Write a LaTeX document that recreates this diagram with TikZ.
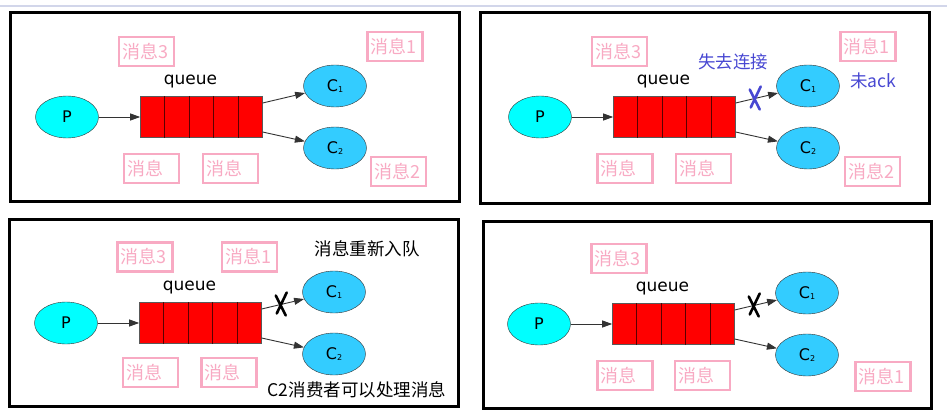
\documentclass[tikz,border=0pt]{standalone}
\usepackage{fontspec}
\setmainfont{DejaVu Sans}
\newfontfamily\cjk{Noto Sans CJK SC}
\usetikzlibrary{positioning, shapes.geometric, arrows.meta, calc}

\definecolor{msgpink}{RGB}{248,170,195}
\definecolor{cutblue}{RGB}{72,72,210}
\definecolor{prodcyan}{RGB}{0,255,255}
\definecolor{conscyan}{RGB}{51,204,255}
\definecolor{rulegray}{RGB}{210,214,234}

\newcommand{\csub}[1]{C\raisebox{-1.5pt}{\fontsize{8}{8}\selectfont #1}}

\begin{document}
\begin{tikzpicture}[
  x=1pt, y=-1pt,
  panel/.style={draw, line width=3pt},
  prod/.style={draw=black!80, ellipse, fill=prodcyan, minimum width=63pt,
               minimum height=42pt, inner sep=0pt, font=\fontsize{16}{16}\selectfont},
  cons/.style={prod, fill=conscyan, font=\fontsize{16}{16}\selectfont},
  qbox/.style={draw=black!65, fill=red, minimum width=122pt, minimum height=41pt,
               inner sep=0pt},
  cell/.style={draw=red!35!black, line width=1.2pt},
  qlabel/.style={inner sep=0pt, font=\fontsize{17}{17}\selectfont},
  msg/.style={draw=msgpink, line width=2.2pt, text=msgpink, text width=49pt,
              inner xsep=3pt, inner ysep=0pt, minimum height=29pt, align=left,
              font=\cjk\fontsize{18}{18}\selectfont},
  note/.style={inner sep=0pt, font=\cjk\fontsize{17.5}{17.5}\selectfont},
  link/.style={-{Triangle[length=10pt, width=7pt]}, draw=black!80, line width=0.9pt},
  xmark/.style={line width=2.6pt, line cap=round},
]
\useasboundingbox (0,0) rectangle (947,417);
\draw[rulegray, line width=1.5pt] (0,6) -- (947,6);

% four frames
\draw[panel] (10,13) rectangle (459,201);
\draw[panel] (480,13) rectangle (929,203);
\draw[panel] (9,219) rectangle (458,406);
\draw[panel] (483,221) rectangle (931,408);

% same queue diagram in each frame
\foreach \k/\dx/\dy in {a/0/0, b/473/0, c/-1/206, d/472/207} {
  \begin{scope}[shift={(\dx,\dy)}]
    \node[prod] (p\k) at (67,117) {P};
    \node[qbox, right=41.5pt of p\k] (q\k) {};
    \foreach \c in {1,...,4}
      \draw[cell] ($(q\k.north west)!\c/5!(q\k.north east)$)
               -- ($(q\k.south west)!\c/5!(q\k.south east)$);
    \node[qlabel, above=8pt of q\k, xshift=-11pt] (ql\k) {queue};
    \node[cons] (ca\k) at (335,86) {\csub{1}};
    \node[cons] (cb\k) at (335,148) {\csub{2}};
    \draw[link] (p\k) -- (q\k);
    \draw[link] ([yshift=14pt]q\k.east) -- coordinate[pos=0.45] (x\k) (ca\k);
    \draw[link] ([yshift=-15pt]q\k.east) -- (cb\k);
  \end{scope}
}

% messages
\node[msg] (m3a) at (146.5,51.5) {消息3};
\node[msg] (m1a) at (395,46.5) {消息1};
\node[msg] (mla) at (151.5,168.5) {消息};
\node[msg] (mra) at (230.5,168.5) {消息};
\node[msg] (m2a) at (398.5,171.5) {消息2};

\node[msg] (m3b) at (619.5,51.5) {消息3};
\node[msg] (m1b) at (868,46.5) {消息1};
\node[msg] (mlb) at (625,168.5) {消息};
\node[msg] (mrb) at (703.5,168.5) {消息};
\node[msg] (m2b) at (872.5,171.5) {消息2};

\node[msg] (m3c) at (145,257) {消息3};
\node[msg] (m1c) at (249.5,257) {消息1};
\node[msg] (mlc) at (150.5,372.5) {消息};
\node[msg] (mrc) at (229,372.5) {消息};

\node[msg] (m3d) at (619,258.5) {消息3};
\node[msg] (mld) at (625,375.5) {消息};
\node[msg] (mrd) at (702.5,375.5) {消息};
\node[msg] (m1d) at (883,376.5) {消息1};

% notes
\node[note, text=cutblue] (lost) at (733,62) {失去连接};
\node[note, text=cutblue] (noack) at (873,81) {未ack};
\node[note] (requeue) at (367,249) {消息重新入队};
\node[note] (c2ok) at (357,390) {C2消费者可以处理消息};

% broken links
\foreach \k/\col in {b/cutblue, c/black, d/black}
  \draw[xmark, \col] ($(x\k)+(-5,-9)$) -- ($(x\k)+(5,11)$)
                     ($(x\k)+(6,-12)$) -- ($(x\k)+(-4,9)$);

\end{tikzpicture}
\end{document}
